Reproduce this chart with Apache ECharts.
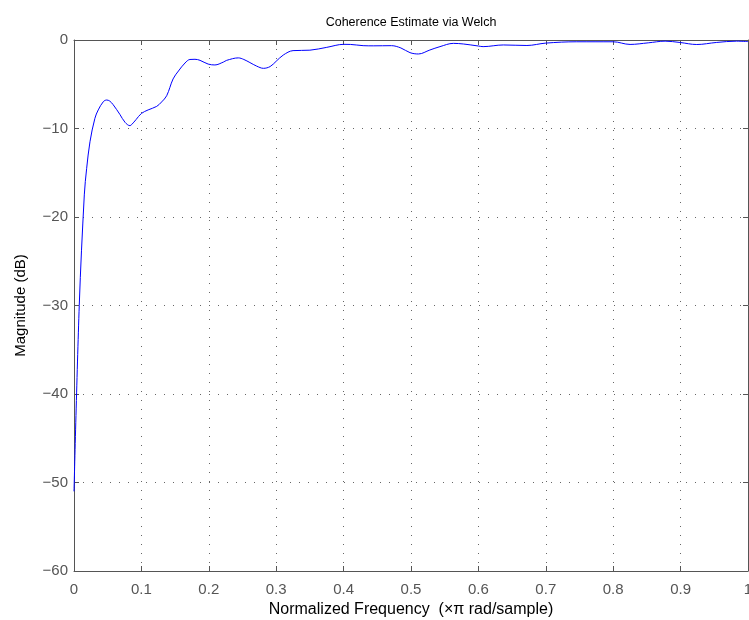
<!DOCTYPE html>
<html>
<head>
<meta charset="utf-8">
<script src="https://cdn.jsdelivr.net/npm/echarts@6/dist/echarts.min.js"></script>
<style>html,body{margin:0;padding:0;background:#fff}#c{width:749px;height:620px}</style>
</head>
<body>
<div id="c"></div>
<script>
var freq = [0, 0.0078, 0.0153, 0.0188, 0.0237, 0.031, 0.036, 0.0435, 0.0485, 0.053, 0.058, 0.068, 0.0757, 0.083, 0.0856, 0.092, 0.1, 0.11, 0.1227, 0.13, 0.1375, 0.147, 0.155, 0.1647, 0.172, 0.1795, 0.187, 0.199, 0.209, 0.2215, 0.2265, 0.2438, 0.252, 0.261, 0.271, 0.281, 0.291, 0.3, 0.3105, 0.325, 0.35, 0.375, 0.4, 0.41, 0.429, 0.444, 0.471, 0.485, 0.4985, 0.511, 0.528, 0.543, 0.5628, 0.5776, 0.6, 0.607, 0.637, 0.672, 0.7, 0.746, 0.8, 0.825, 0.852, 0.877, 0.899, 0.924, 0.953, 0.983, 1.0];
var magnitude = [-51, -30, -17.5, -14.5, -11.5, -8.85, -7.9, -6.97, -6.78, -6.9, -7.3, -8.4, -9.3, -9.68, -9.55, -9.0, -8.3, -7.9, -7.5, -7.0, -6.3, -4.4, -3.5, -2.6, -2.2, -2.18, -2.3, -2.72, -2.82, -2.5, -2.3, -2.02, -2.2, -2.55, -2.95, -3.2, -3.0, -2.4, -1.7, -1.2, -1.15, -0.83, -0.49, -0.5, -0.64, -0.66, -0.64, -0.9, -1.43, -1.58, -1.13, -0.75, -0.38, -0.45, -0.68, -0.75, -0.56, -0.62, -0.35, -0.2, -0.2, -0.5, -0.32, -0.13, -0.28, -0.51, -0.28, -0.13, -0.18];
var xTicks = [0, 0.1, 0.2, 0.3, 0.4, 0.5, 0.6, 0.7, 0.8, 0.9, 1];
var yTicks = [-60, -50, -40, -30, -20, -10, 0];
var titleText = 'Coherence Estimate via Welch';
var xName = 'Normalized Frequency  (\u00d7\u03c0 rad/sample)';
var yName = 'Magnitude (dB)';

var pts = freq.map(function (f, i) { return [f, magnitude[i]]; });
var font = 'Liberation Sans, Arial, Helvetica, sans-serif';
var axisCol = '#555';
var gridLine = { show: true, lineStyle: { color: '#666', type: [1, 8], width: 1 } };
function fmtNum(v) { return String(v).replace('-', '\u2212'); }

var chart = echarts.init(document.getElementById('c'), null, { renderer: 'canvas' });
chart.setOption({
  animation: false,
  backgroundColor: '#fff',
  title: {
    text: titleText, left: 406, top: 11, textAlign: 'center',
    textStyle: { fontFamily: font, fontSize: 12.5, fontWeight: 'normal', color: '#000' }
  },
  grid: { left: 74, top: 40, right: 1, bottom: 49, containLabel: false, outerBoundsMode: 'none' },
  xAxis: [{
    type: 'value', min: 0, max: 1, interval: 0.1, position: 'bottom',
    axisLine: { show: true, onZero: false, lineStyle: { color: axisCol, width: 1 } },
    axisTick: { show: true, inside: true, length: 5, lineStyle: { color: axisCol } },
    axisLabel: { color: '#555', fontFamily: font, fontSize: 15, margin: 11, showMaxLabel: true, formatter: function (v) { return fmtNum(+v.toFixed(1)); } },
    splitLine: gridLine,
    name: xName, nameLocation: 'middle', nameGap: 30,
    nameTextStyle: { color: '#000', fontFamily: font, fontSize: 16 }
  }, {
    type: 'value', min: 0, max: 1, interval: 0.1, position: 'top',
    axisLine: { show: true, onZero: false, lineStyle: { color: axisCol, width: 1 } },
    axisTick: { show: true, inside: true, length: 5, lineStyle: { color: axisCol } },
    axisLabel: { show: false }, splitLine: { show: false }
  }],
  yAxis: [{
    type: 'value', min: -60, max: 0, interval: 10, position: 'left',
    axisLine: { show: true, onZero: false, lineStyle: { color: axisCol, width: 1 } },
    axisTick: { show: true, inside: true, length: 5, lineStyle: { color: axisCol } },
    axisLabel: { color: '#555', fontFamily: font, fontSize: 15, margin: 6, formatter: function (v) { return fmtNum(v); } },
    splitLine: gridLine,
    name: yName, nameLocation: 'middle', nameGap: 46, nameRotate: 90,
    nameTextStyle: { color: '#000', fontFamily: font, fontSize: 15 }
  }, {
    type: 'value', min: -60, max: 0, interval: 10, position: 'right',
    axisLine: { show: true, onZero: false, lineStyle: { color: axisCol, width: 1 } },
    axisTick: { show: true, inside: true, length: 5, lineStyle: { color: axisCol } },
    axisLabel: { show: false }, splitLine: { show: false }
  }],
  series: [{
    type: 'line', xAxisIndex: 0, yAxisIndex: 0, data: pts,
    showSymbol: false, smooth: 0.35,
    lineStyle: { color: '#0000ff', width: 1 }
  }]
});
</script>
</body>
</html>
